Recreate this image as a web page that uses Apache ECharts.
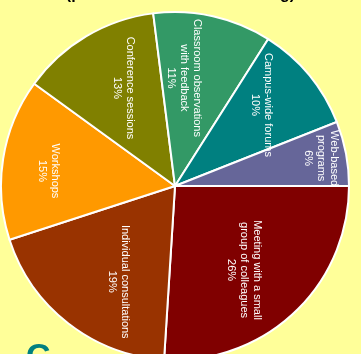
<!DOCTYPE html>
<html>
<head>
<meta charset="utf-8">
<script src="https://cdn.jsdelivr.net/npm/echarts@6/dist/echarts.min.js"></script>
<style>
html,body{margin:0;padding:0;background:#FFFF99;}
#chart{width:361px;height:354px;}
</style>
</head>
<body>
<div id="chart"></div>
<script>
// Data
const categories = [
  'Meeting with a small\ngroup of colleagues',
  'Individual consultations',
  'Workshops',
  'Conference sessions',
  'Classroom observations\nwith feedback',
  'Campus-wide forums',
  'Web-based\nprograms'
];
const values = [26, 19, 15, 13, 11, 10, 6];
const colors = ['#800000', '#993300', '#FF9900', '#808000', '#339966', '#008080', '#666699'];

// label placement tweaks (radius fraction, angle shift in degrees)
const labelRadius = [0.625, 0.64, 0.73, 0.635, 0.623, 0.683, 0.855];
const labelShift = [3.8, -7.1, -2.2, 3.1, -7.8, -3.4, 0];

const CX = 175, CY = 186, R = 174;

const chart = echarts.init(document.getElementById('chart'));
chart.setOption({
  backgroundColor: '#FFFF99',
  animation: false,
  title: {
    text: '(preferred method of learning)',
    left: 'center',
    top: -18,
    textStyle: { fontFamily: 'Liberation Sans, Arial, sans-serif', fontSize: 16, fontWeight: 'bold', color: '#000' }
  },
  graphic: [{
    type: 'text',
    left: 26,
    top: 341,
    style: { text: 'C', fontFamily: 'Liberation Sans, Arial, sans-serif', fontSize: 34, fontWeight: 'bold', fill: '#008080' }
  }],
  series: [{
    type: 'pie',
    center: [CX, CY],
    radius: [0, R],
    startAngle: 0,
    clockwise: true,
    avoidLabelOverlap: false,
    itemStyle: { borderColor: '#ffffff', borderWidth: 2 },
    label: {
      show: true,
      position: 'inside',
      rotate: -90,
      color: '#ffffff',
      fontFamily: 'Liberation Sans, Arial, sans-serif',
      fontSize: 11,
      lineHeight: 13,
      align: 'center',
      formatter: p => p.name + '\n' + p.value + '%'
    },
    labelLine: { show: false },
    labelLayout: function (params) {
      const i = params.dataIndex;
      const lr = params.labelRect;
      const lx = lr.x + lr.width / 2 - CX;
      const ly = lr.y + lr.height / 2 - CY;
      const a = Math.atan2(ly, lx) + labelShift[i] * Math.PI / 180;
      const rr = labelRadius[i] * R;
      return { x: CX + rr * Math.cos(a), y: CY + rr * Math.sin(a) };
    },
    data: categories.map((c, i) => ({ name: c, value: values[i], itemStyle: { color: colors[i] } }))
  }]
});
</script>
</body>
</html>
